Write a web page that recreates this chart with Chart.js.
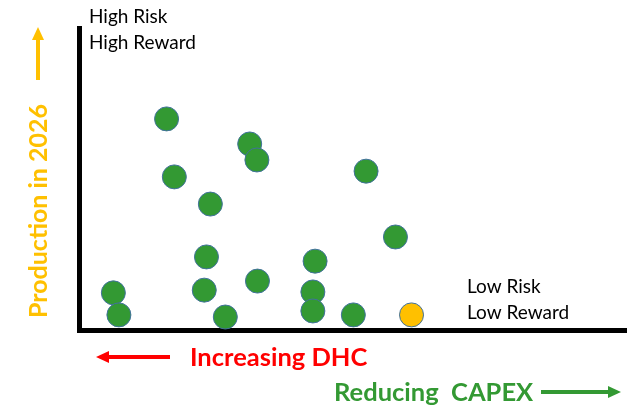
<!DOCTYPE html>
<html>
<head>
<meta charset="utf-8">
<script src="https://cdn.jsdelivr.net/npm/chart.js@4/dist/chart.umd.min.js"></script>
<style>
  html, body { margin: 0; padding: 0; background: #fff; }
  #wrap { width: 639px; height: 409px; }
</style>
</head>
<body>
<div id="wrap"><canvas id="chart"></canvas></div>
<script>
// projects: x = position along CAPEX axis, y = production in 2026 (0-100)
const capex = [15.8, 30.8, 32.1, 17.2, 51.8, 23.7, 57.1, 23.0, 42.6, 32.2, 6.2, 22.6, 42.2, 7.2, 26.4, 42.2, 49.5];
const production = [69.9, 61.6, 56.3, 50.7, 52.6, 41.7, 30.8, 24.2, 22.8, 16.2, 12.3, 13.2, 12.6, 5.0, 4.3, 6.3, 5.0];
const highlightX = [60.0];
const highlightY = [5.0];

const toPoints = (xs, ys) => xs.map((x, i) => ({ x: x, y: ys[i] }));

const labels = {
    id: "labels",
    afterDraw(chart) {
        const c = chart.ctx;
        c.save();
        c.textBaseline = "middle";
        c.fillStyle = "#000";
        c.font = "19px Lato";
        c.fillText("High Risk", 89, 17);
        c.fillText("High Reward", 89, 43);
        c.fillText("Low Risk", 467, 287);
        c.fillText("Low Reward", 467, 313);

        // y title with arrow
        c.fillStyle = "#FFC000";
        c.save();
        c.translate(39, 211);
        c.rotate(-Math.PI / 2);
        c.textAlign = "center";
        c.font = "bold 25px Lato";
        c.fillText("Production in 2026", 0, 0);
        c.restore();
        arrow(c, 38, 80, 38, 27, "#FFC000");

        // x captions
        c.font = "bold 25.5px Lato";
        c.fillStyle = "#FF0000";
        c.fillText("Increasing DHC", 190, 358);
        arrow(c, 170, 357, 96, 357, "#FF0000");
        c.fillStyle = "#339933";
        c.fillText("Reducing  CAPEX", 334, 393);
        arrow(c, 541, 392, 621, 392, "#339933");
        c.restore();
    }
};

function arrow(c, x1, y1, x2, y2, color) {
    const a = Math.atan2(y2 - y1, x2 - x1);
    const head = 13;
    const half = 6;
    c.strokeStyle = color;
    c.fillStyle = color;
    c.lineWidth = 4;
    c.beginPath();
    c.moveTo(x1, y1);
    c.lineTo(x2 - Math.cos(a) * head * 0.8, y2 - Math.sin(a) * head * 0.8);
    c.stroke();
    c.beginPath();
    c.moveTo(x2, y2);
    c.lineTo(x2 - head * Math.cos(a) + half * Math.sin(a), y2 - head * Math.sin(a) - half * Math.cos(a));
    c.lineTo(x2 - head * Math.cos(a) - half * Math.sin(a), y2 - head * Math.sin(a) + half * Math.cos(a));
    c.closePath();
    c.fill();
}

new Chart(document.getElementById("chart"), {
    type: "scatter",
    data: {
        datasets: [
            {
                label: "Projects",
                data: toPoints(capex, production),
                backgroundColor: "#339933",
                borderColor: "#41719C",
                borderWidth: 1,
                pointRadius: 12,
                pointHoverRadius: 12,
            },
            {
                label: "Highlight",
                data: toPoints(highlightX, highlightY),
                backgroundColor: "#FFC000",
                borderColor: "#41719C",
                borderWidth: 1,
                pointRadius: 12,
                pointHoverRadius: 12,
            },
        ],
    },
    options: {
        responsive: true,
        maintainAspectRatio: false,
        animation: false,
        layout: { padding: { left: 71, right: 2, top: 28, bottom: 71 } },
        plugins: { legend: { display: false }, tooltip: { enabled: false } },
        scales: {
            x: {
                min: 0,
                max: 98.7,
                ticks: { display: false },
                grid: { display: false },
                border: { display: true, color: "#000", width: 5 },
            },
            y: {
                min: 0,
                max: 100,
                ticks: { display: false },
                grid: { display: false },
                border: { display: true, color: "#000", width: 5 },
            },
        },
    },
    plugins: [labels],
});
</script>
</body>
</html>
